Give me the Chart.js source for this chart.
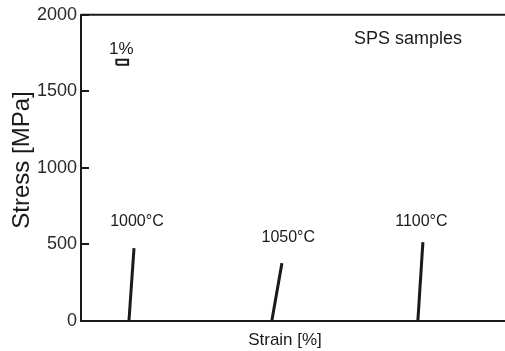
<!DOCTYPE html>
<html><head><meta charset="utf-8">
<script src="https://cdn.jsdelivr.net/npm/chart.js@4/dist/chart.umd.min.js"></script>
<style>html,body{margin:0;padding:0;background:#fff;}</style>
</head><body>
<canvas id="c" width="505" height="351"></canvas>
<script>
// ---- data ----
const seriesNames = ['1000°C', '1050°C', '1100°C'];
const strain1000 = [4.07, 4.50];
const stress1000 = [0, 476];
const strain1050 = [16.2, 17.06];
const stress1050 = [0, 378];
const strain1100 = [28.6, 29.03];
const stress1100 = [0, 515];
const yTicks = [0, 500, 1000, 1500, 2000];
const scaleBarStrain = [3.0, 4.0, 4.0, 3.0, 3.0];
const scaleBarStress = [1674, 1674, 1707, 1707, 1674];
const scaleBarText = '1%';
const labelStrain = [4.75, 17.6, 28.9];
const labelStress = [651, 547, 651];
const panelTitle = 'SPS samples';
const xTitle = 'Strain [%]';
const yTitle = 'Stress [MPa]';

const INK = '#1a1a1a';
const FONT = '"Liberation Sans", Arial, Helvetica, sans-serif';

function pts(xs, ys) { return xs.map((x, i) => ({x: x, y: ys[i]})); }

const curveStyle = {showLine: true, pointRadius: 0, borderColor: INK, borderWidth: 3, fill: false, clip: false, tension: 0};

const textPlugin = {
  id: 'texts',
  afterDraw(chart) {
    const ctx = chart.ctx, a = chart.chartArea;
    const xs = chart.scales.x, ys = chart.scales.y;
    ctx.save();
    ctx.strokeStyle = INK;
    ctx.lineWidth = 2;
    // top frame line
    ctx.beginPath();
    ctx.moveTo(a.left, a.top);
    ctx.lineTo(a.right, a.top);
    ctx.stroke();
    // inward tick marks
    yTicks.forEach(v => {
      const py = Math.round(ys.getPixelForValue(v));
      ctx.beginPath();
      ctx.moveTo(a.left, py);
      ctx.lineTo(a.left + 8, py);
      ctx.stroke();
    });
    ctx.fillStyle = INK;
    ctx.textAlign = 'center';
    ctx.textBaseline = 'middle';
    // curve labels
    ctx.font = '16px ' + FONT;
    seriesNames.forEach((n, i) => {
      ctx.fillText(n, xs.getPixelForValue(labelStrain[i]), ys.getPixelForValue(labelStress[i]));
    });
    // scale bar label
    ctx.font = '17px ' + FONT;
    ctx.fillText(scaleBarText, xs.getPixelForValue((scaleBarStrain[0] + scaleBarStrain[1]) / 2) - 1, ys.getPixelForValue(1772));
    // panel title
    ctx.font = '18px ' + FONT;
    ctx.fillText(panelTitle, 408, 39);
    // x title
    ctx.font = '17px ' + FONT;
    ctx.fillText(xTitle, 285, 340);
    // y title
    ctx.translate(22, 160);
    ctx.rotate(-Math.PI / 2);
    ctx.font = '24px ' + FONT;
    ctx.fillText(yTitle, 0, 0);
    ctx.restore();
  }
};

new Chart(document.getElementById('c'), {
  type: 'scatter',
  data: {
    datasets: [
      Object.assign({label: seriesNames[0], data: pts(strain1000, stress1000)}, curveStyle),
      Object.assign({label: seriesNames[1], data: pts(strain1050, stress1050)}, curveStyle),
      Object.assign({label: seriesNames[2], data: pts(strain1100, stress1100)}, curveStyle),
      {label: scaleBarText, data: pts(scaleBarStrain, scaleBarStress), showLine: true, pointRadius: 0,
       borderColor: INK, borderWidth: 2, fill: false, clip: false, tension: 0}
    ]
  },
  options: {
    responsive: false,
    devicePixelRatio: 1,
    animation: false,
    layout: {padding: {top: 14, right: 0, bottom: 0, left: 0}},
    plugins: {legend: {display: false}, tooltip: {enabled: false}},
    scales: {
      x: {
        type: 'linear', min: 0, max: 36,
        ticks: {display: false},
        grid: {display: false, drawTicks: false},
        border: {display: true, width: 2, color: INK},
        afterFit(s) { s.height = 30; }
      },
      y: {
        type: 'linear', min: 0, max: 2000,
        afterBuildTicks(s) { s.ticks = yTicks.map(v => ({value: v})); },
        ticks: {color: '#2a2a2a', font: {size: 18, family: FONT}, padding: 4,
                callback: v => String(v)},
        grid: {display: false, drawTicks: false},
        border: {display: true, width: 2, color: INK},
        afterFit(s) { s.width = 81; }
      }
    }
  },
  plugins: [textPlugin]
});
</script>
</body></html>
